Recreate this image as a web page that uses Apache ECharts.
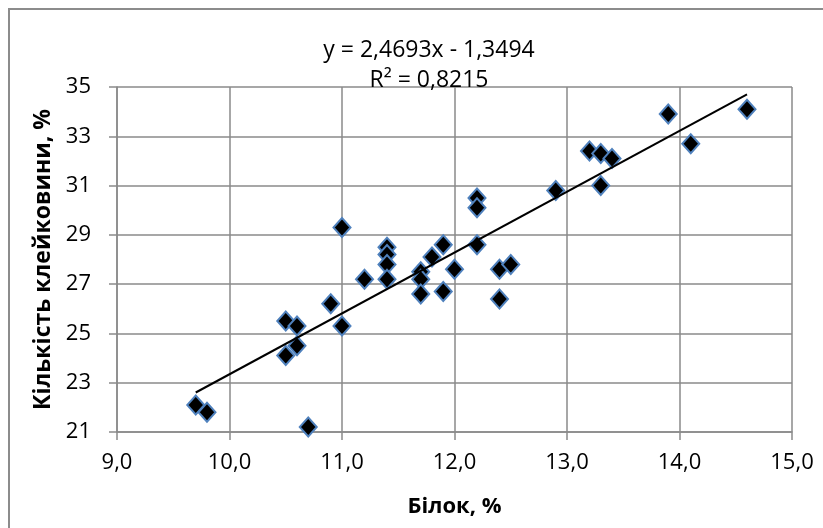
<!DOCTYPE html>
<html>
<head>
<meta charset="utf-8">
<script src="https://cdn.jsdelivr.net/npm/echarts@6/dist/echarts.min.js"></script>
<style>
html,body{margin:0;padding:0;background:#fff;}
#c{width:823px;height:528px;}
</style>
</head>
<body>
<div id="c"></div>
<script>
// Data
const protein = [9.7, 9.8, 10.5, 10.5, 10.6, 10.6, 10.7, 10.9, 11.0, 11.0, 11.2, 11.4, 11.4, 11.4, 11.4, 11.7, 11.7, 11.7, 11.8, 11.9, 11.9, 12.0, 12.2, 12.2, 12.2, 12.4, 12.4, 12.5, 12.9, 13.2, 13.3, 13.3, 13.4, 13.9, 14.1, 14.6];
const gluten  = [22.1, 21.8, 25.5, 24.1, 25.3, 24.5, 21.2, 26.2, 29.3, 25.3, 27.2, 28.5, 28.2, 27.8, 27.2, 27.5, 27.2, 26.6, 28.1, 28.6, 26.7, 27.6, 30.5, 30.1, 28.6, 27.6, 26.4, 27.8, 30.8, 32.4, 32.3, 31.0, 32.1, 33.9, 32.7, 34.1];
const trendSlope = 2.4693;
const trendIntercept = -1.3494;
const trendLabel = "y = 2,4693x - 1,3494";
const r2Label = "R² = 0,8215";
const xTitle = "Білок, %";
const yTitle = "Кількість клейковини, %";

const points = protein.map((x, i) => [x, gluten[i]]);
const xMin = Math.min(...protein), xMax = Math.max(...protein);
const trend = [[xMin, trendSlope * xMin + trendIntercept], [xMax, trendSlope * xMax + trendIntercept]];

const fmtComma = (v, d) => v.toFixed(d).replace('.', ',');
const font = "'Open Sans', 'Noto Sans', sans-serif";
const gridColor = '#8a8a8a';

const chart = echarts.init(document.getElementById('c'), null, {renderer: 'canvas'});
chart.setOption({
  animation: false,
  backgroundColor: '#fff',
  graphic: [{
    type: 'rect',
    shape: {x: 9, y: 9, width: 830, height: 530},
    style: {fill: 'none', stroke: '#8c8c8c', lineWidth: 2},
    silent: true, z: 100
  }],
  title: [{
    text: trendLabel + '\n' + r2Label,
    left: 424, top: 30, textAlign: 'center',
    textStyle: {fontFamily: font, fontSize: 23, fontWeight: 'normal', color: '#000', lineHeight: 30}
  }],
  grid: {left: 117, top: 87, right: 31, bottom: 96},
  xAxis: {
    type: 'value', min: 9, max: 15, interval: 1,
    name: xTitle, nameLocation: 'middle', nameGap: 64,
    nameTextStyle: {fontFamily: font, fontSize: 22, fontWeight: 'bold', color: '#000'},
    axisLine: {show: true, lineStyle: {color: gridColor, width: 1.5}},
    axisTick: {show: true, inside: false, length: 8, lineStyle: {color: gridColor, width: 1.5}},
    axisLabel: {fontFamily: font, fontSize: 22, color: '#000', margin: 20, formatter: v => fmtComma(v, 1)},
    splitLine: {show: true, lineStyle: {color: gridColor, width: 1.5}}
  },
  yAxis: {
    type: 'value', min: 21, max: 35, interval: 2,
    name: yTitle, nameLocation: 'middle', nameGap: 60, nameRotate: 90,
    nameTextStyle: {fontFamily: font, fontSize: 23, fontWeight: 'bold', color: '#000'},
    axisLine: {show: true, lineStyle: {color: gridColor, width: 1.5}},
    axisTick: {show: true, inside: false, length: 8, lineStyle: {color: gridColor, width: 1.5}},
    axisLabel: {fontFamily: font, fontSize: 22, color: '#000', margin: 26},
    splitLine: {show: true, lineStyle: {color: gridColor, width: 1.5}}
  },
  series: [{
    type: 'line', data: trend, symbol: 'none', silent: true,
    lineStyle: {color: '#000', width: 2}, z: 3
  }, {
    type: 'scatter', data: points, symbol: 'diamond', symbolSize: [17, 19],
    itemStyle: {color: '#000', borderColor: '#4f81bd', borderWidth: 2, opacity: 1}, z: 2
  }]
});
</script>
</body>
</html>
